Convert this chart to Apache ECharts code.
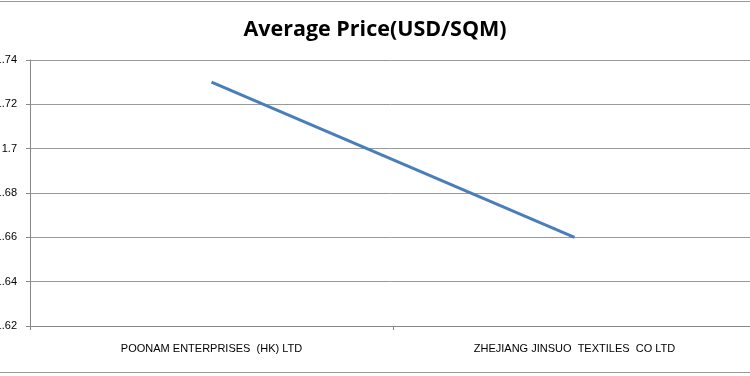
<!DOCTYPE html>
<html>
<head>
<meta charset="utf-8">
<style>
  html, body { margin: 0; padding: 0; background: #fff; }
  #chart { width: 750px; height: 376px; }
</style>
<script src="https://cdn.jsdelivr.net/npm/echarts@6/dist/echarts.min.js"></script>
</head>
<body>
<div id="chart"></div>
<script>
// data
const companies = ['POONAM ENTERPRISES  (HK) LTD', 'ZHEJIANG JINSUO  TEXTILES  CO LTD']
const avgPrice = [1.73, 1.66]
const yTicks = [1.62, 1.64, 1.66, 1.68, 1.70, 1.72, 1.74]

const myChart = echarts.init(document.getElementById('chart'))

const option = {
  animation: false,
  title: {
    text: 'Average Price(USD/SQM)',
    left: 'center',
    top: 14,
    textStyle: {
      fontFamily: 'Open Sans',
      fontWeight: 'bold',
      fontSize: 21.5,
      color: '#000'
    }
  },
  grid: {
    left: 30,
    right: -6,
    top: 60,
    bottom: 50,
    containLabel: false,
    outerBoundsMode: 'none' // let the y labels run off the left edge like the original crop
  },
  xAxis: {
    type: 'category',
    data: companies,
    boundaryGap: true,
    axisLine: { lineStyle: { color: '#888', width: 1 } },
    axisTick: { show: true, length: 4, lineStyle: { color: '#888' } },
    axisLabel: {
      interval: 0,
      margin: 17,
      fontFamily: 'Liberation Sans',
      fontSize: 11,
      color: '#000'
    },
    splitLine: { show: false }
  },
  yAxis: {
    type: 'value',
    min: yTicks[0],
    max: yTicks[yTicks.length - 1],
    interval: 0.02,
    axisLine: { show: true, lineStyle: { color: '#888', width: 1 } },
    axisTick: { show: true, length: 4, lineStyle: { color: '#888' } },
    axisLabel: {
      margin: 13,
      fontFamily: 'Liberation Sans',
      fontSize: 11,
      color: '#000',
      formatter: v => String(+v.toFixed(2))
    },
    splitLine: { lineStyle: { color: '#999', width: 1, type: 'solid' } }
  },
  series: [{
    type: 'line',
    data: avgPrice,
    symbol: 'none',
    lineStyle: { color: '#4a7ebb', width: 3 }
  }],
  graphic: [
    // chart area borders (top / bottom edges of the excel frame)
    { type: 'line', shape: { x1: 0, y1: 1.5, x2: 750, y2: 1.5 }, style: { stroke: '#999', lineWidth: 1 } },
    { type: 'line', shape: { x1: 0, y1: 372.5, x2: 750, y2: 372.5 }, style: { stroke: '#999', lineWidth: 1 } }
  ]
}
myChart.setOption(option)
</script>
</body>
</html>
